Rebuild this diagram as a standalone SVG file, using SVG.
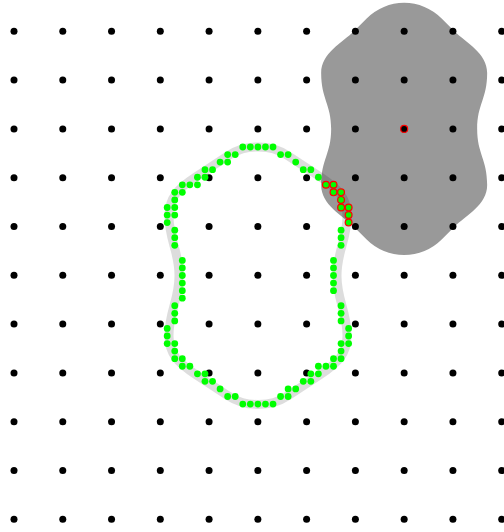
<svg xmlns="http://www.w3.org/2000/svg" width="504" height="532" viewBox="0 0 504 532">
  <style>
    .bg { fill: #ffffff; }
    .blob { fill: #999999; stroke: none; }
    .band { fill: none; stroke: #000000; stroke-opacity: 0.135; stroke-width: 9; stroke-linejoin: round; }
    .gd { fill: #000000; }
    .g { fill: #00ff00; }
    .gr { fill: #00ff00; stroke: #ff0000; stroke-width: 0.16; }
    .rd { fill: #000000; stroke: #ff0000; stroke-width: 1.2; }
  </style>
  <defs>
    <g id="row">
      <circle class="gd" cx="14" cy="0" r="3.5"/>
      <circle class="gd" cx="62.77" cy="0" r="3.5"/>
      <circle class="gd" cx="111.54" cy="0" r="3.5"/>
      <circle class="gd" cx="160.31" cy="0" r="3.5"/>
      <circle class="gd" cx="209.08" cy="0" r="3.5"/>
      <circle class="gd" cx="257.85" cy="0" r="3.5"/>
      <circle class="gd" cx="306.62" cy="0" r="3.5"/>
      <circle class="gd" cx="355.39" cy="0" r="3.5"/>
      <circle class="gd" cx="404.16" cy="0" r="3.5"/>
      <circle class="gd" cx="452.93" cy="0" r="3.5"/>
      <circle class="gd" cx="501.7" cy="0" r="3.5"/>
    </g>
  </defs>
  <rect class="bg" x="0" y="0" width="504" height="532"/>

  <g id="blob" transform="translate(404.16,128.9)">
    <path class="blob" d="M 37.5,-110.5 L 50,-98 C 62,-86 83,-76 83,-56 C 83,-30 73,-25 73,0 C 73,25 83,30 83,56 C 83,76 62,86 50,98 L 37.5,110.5 A 53 53 0 0 1 -37.5,110.5 L -50,98 C -62,86 -83,76 -83,56 C -83,30 -73,25 -73,0 C -73,-25 -83,-30 -83,-56 C -83,-76 -62,-86 -50,-98 L -37.5,-110.5 A 53 53 0 0 1 37.5,-110.5 Z"/>
  </g>

  <g id="band" transform="translate(258,275.7)">
    <path class="band" d="M 0,-128.7 C 12,-128.7 20,-126.6 30,-120 L 62,-99 C 80,-87.2 89,-78 89,-60 C 89,-35 79,-25 79,0 C 79,25 89,35 89,60 C 89,78 80,87.2 62,99 L 30,120 C 20,126.6 12,128.7 0,128.7 C -12,128.7 -20,126.6 -30,120 L -62,99 C -80,87.2 -89,78 -89,60 C -89,35 -79,25 -79,0 C -79,-25 -89,-35 -89,-60 C -89,-78 -80,-87.2 -62,-99 L -30,-120 C -20,-126.6 -12,-128.7 0,-128.7 Z"/>
  </g>

  <g id="grid">
    <use href="#row" y="31.3"/>
    <use href="#row" y="80.1"/>
    <use href="#row" y="128.9"/>
    <use href="#row" y="177.7"/>
    <use href="#row" y="226.5"/>
    <use href="#row" y="275.3"/>
    <use href="#row" y="324.1"/>
    <use href="#row" y="372.9"/>
    <use href="#row" y="421.7"/>
    <use href="#row" y="470.5"/>
    <use href="#row" y="519.3"/>
  </g>

  <g id="contour-dots" transform="translate(257.9,147) scale(7.56)">
    <circle class="g" cx="-2" cy="0" r="0.45"/><circle class="g" cx="-1" cy="0" r="0.45"/><circle class="g" cx="0" cy="0" r="0.45"/><circle class="g" cx="1" cy="0" r="0.45"/><circle class="g" cx="2" cy="0" r="0.45"/>
    <circle class="g" cx="-4" cy="1" r="0.45"/><circle class="g" cx="-3" cy="1" r="0.45"/><circle class="g" cx="3" cy="1" r="0.45"/><circle class="g" cx="4" cy="1" r="0.45"/>
    <circle class="g" cx="-5" cy="2" r="0.45"/><circle class="g" cx="-4" cy="2" r="0.45"/><circle class="g" cx="5" cy="2" r="0.45"/>
    <circle class="g" cx="-7" cy="3" r="0.45"/><circle class="g" cx="-6" cy="3" r="0.45"/><circle class="g" cx="6" cy="3" r="0.45"/><circle class="g" cx="7" cy="3" r="0.45"/>
    <circle class="g" cx="-8" cy="4" r="0.45"/><circle class="g" cx="-7" cy="4" r="0.45"/><circle class="g" cx="8" cy="4" r="0.45"/>
    <circle class="g" cx="-10" cy="5" r="0.45"/><circle class="g" cx="-9" cy="5" r="0.45"/><circle class="g" cx="-8" cy="5" r="0.45"/><circle class="gr" cx="9" cy="5" r="0.45"/><circle class="gr" cx="10" cy="5" r="0.45"/>
    <circle class="g" cx="-11" cy="6" r="0.45"/><circle class="g" cx="-10" cy="6" r="0.45"/><circle class="gr" cx="10" cy="6" r="0.45"/><circle class="gr" cx="11" cy="6" r="0.45"/>
    <circle class="g" cx="-11" cy="7" r="0.45"/><circle class="gr" cx="11" cy="7" r="0.45"/>
    <circle class="g" cx="-12" cy="8" r="0.45"/><circle class="g" cx="-11" cy="8" r="0.45"/><circle class="gr" cx="11" cy="8" r="0.45"/><circle class="gr" cx="12" cy="8" r="0.45"/>
    <circle class="g" cx="-12" cy="9" r="0.45"/><circle class="g" cx="-11" cy="9" r="0.45"/><circle class="gr" cx="12" cy="9" r="0.45"/>
    <circle class="g" cx="-12" cy="10" r="0.45"/><circle class="gr" cx="12" cy="10" r="0.45"/>
    <circle class="g" cx="-11" cy="11" r="0.45"/><circle class="g" cx="11" cy="11" r="0.45"/>
    <circle class="g" cx="-11" cy="12" r="0.45"/><circle class="g" cx="11" cy="12" r="0.45"/>
    <circle class="g" cx="-11" cy="13" r="0.45"/><circle class="g" cx="11" cy="13" r="0.45"/>
    <circle class="g" cx="-10" cy="15" r="0.45"/><circle class="g" cx="10" cy="15" r="0.45"/>
    <circle class="g" cx="-10" cy="16" r="0.45"/><circle class="g" cx="10" cy="16" r="0.45"/>
    <circle class="g" cx="-10" cy="17" r="0.45"/><circle class="g" cx="10" cy="17" r="0.45"/>
    <circle class="g" cx="-10" cy="18" r="0.45"/><circle class="g" cx="10" cy="18" r="0.45"/>
    <circle class="g" cx="-10" cy="19" r="0.45"/><circle class="g" cx="10" cy="19" r="0.45"/>
    <circle class="g" cx="-10" cy="20" r="0.45"/>
    <circle class="g" cx="-11" cy="21" r="0.45"/><circle class="g" cx="11" cy="21" r="0.45"/>
    <circle class="g" cx="-11" cy="22" r="0.45"/><circle class="g" cx="11" cy="22" r="0.45"/>
    <circle class="g" cx="-11" cy="23" r="0.45"/><circle class="g" cx="11" cy="23" r="0.45"/>
    <circle class="g" cx="-12" cy="24" r="0.45"/><circle class="g" cx="12" cy="24" r="0.45"/>
    <circle class="g" cx="-12" cy="25" r="0.45"/><circle class="g" cx="12" cy="25" r="0.45"/>
    <circle class="g" cx="-12" cy="26" r="0.45"/><circle class="g" cx="-11" cy="26" r="0.45"/><circle class="g" cx="11" cy="26" r="0.45"/><circle class="g" cx="12" cy="26" r="0.45"/>
    <circle class="g" cx="-11" cy="27" r="0.45"/><circle class="g" cx="11" cy="27" r="0.45"/>
    <circle class="g" cx="-11" cy="28" r="0.45"/><circle class="g" cx="-10" cy="28" r="0.45"/><circle class="g" cx="10" cy="28" r="0.45"/><circle class="g" cx="11" cy="28" r="0.45"/>
    <circle class="g" cx="-10" cy="29" r="0.45"/><circle class="g" cx="-9" cy="29" r="0.45"/><circle class="g" cx="8" cy="29" r="0.45"/><circle class="g" cx="9" cy="29" r="0.45"/><circle class="g" cx="10" cy="29" r="0.45"/>
    <circle class="g" cx="-8" cy="30" r="0.45"/><circle class="g" cx="-7" cy="30" r="0.45"/><circle class="g" cx="7" cy="30" r="0.45"/><circle class="g" cx="8" cy="30" r="0.45"/>
    <circle class="g" cx="-7" cy="31" r="0.45"/><circle class="g" cx="-6" cy="31" r="0.45"/><circle class="g" cx="6" cy="31" r="0.45"/><circle class="g" cx="7" cy="31" r="0.45"/>
    <circle class="g" cx="-5" cy="32" r="0.45"/><circle class="g" cx="4" cy="32" r="0.45"/><circle class="g" cx="5" cy="32" r="0.45"/>
    <circle class="g" cx="-4" cy="33" r="0.45"/><circle class="g" cx="-3" cy="33" r="0.45"/><circle class="g" cx="3" cy="33" r="0.45"/><circle class="g" cx="4" cy="33" r="0.45"/>
    <circle class="g" cx="-2" cy="34" r="0.45"/><circle class="g" cx="-1" cy="34" r="0.45"/><circle class="g" cx="0" cy="34" r="0.45"/><circle class="g" cx="1" cy="34" r="0.45"/><circle class="g" cx="2" cy="34" r="0.45"/>
  </g>

  <g id="center-point">
    <circle class="rd" cx="404.16" cy="128.9" r="3.5"/>
  </g>
</svg>
